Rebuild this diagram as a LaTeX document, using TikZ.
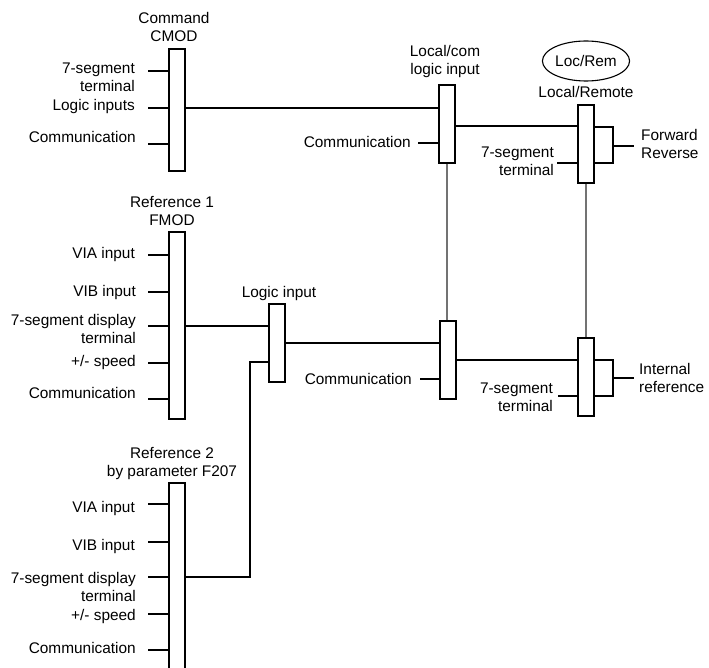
\documentclass[tikz,border=0pt]{standalone}
\usepackage{fontspec}
\setmainfont{Liberation Sans}
\usetikzlibrary{shapes.geometric}
\begin{document}
\begin{tikzpicture}[x=1pt,y=-1pt,
  every node/.style={font=\fontsize{15.4}{18}\selectfont},
  bar/.style={draw, line width=1.4pt, minimum width=16pt, inner sep=0pt, fill=white},
  wire/.style={line width=1.4pt},
  gwire/.style={line width=1.2pt, black!55},
  lbl/.style={inner sep=0pt, align=right},
  lblL/.style={inner sep=0pt, align=left},
  ttl/.style={inner sep=0pt, align=center}]
\useasboundingbox (0,0) rectangle (709,668);

% bars
\node[bar, minimum height=122pt] (cmod) at (177,110) {};
\node[bar, minimum height=78pt] (lc) at (447,124) {};
\node[bar, minimum height=78pt] (lr) at (586,144) {};
\node[bar, minimum height=187pt] (fmod) at (177,325.5) {};
\node[bar, minimum height=78pt] (li) at (277,343) {};
\node[bar, minimum height=78pt] (lm) at (448,360) {};
\node[bar, minimum height=78pt] (rr) at (586,377) {};
\node[bar, minimum height=189pt] (ref2) at (177,577.5) {};

% titles
\node[ttl] (tcmod) at (174,26.5) {Command\\CMOD};
\node[ttl] (tlc) at (445,62) {Local/com\\logic input};
\node[draw, ellipse, line width=1.1pt, minimum width=75pt, minimum height=40pt, inner sep=0pt] (locrem) at (586,61) {Loc/Rem};
\node[ttl] (tlr) at (586,92) {Local/Remote};
\node[ttl] (tfmod) at (172,211) {Reference 1\\FMOD};
\node[ttl] (tli) at (279,294) {Logic input};
\node[ttl] (tref2) at (172,463.5) {Reference 2\\by parameter F207};

% CMOD labels and ticks
\node[lbl, anchor=east] (c1) at (135,77) {7-segment\\terminal};
\node[lbl, anchor=east] (c2) at (135,107) {Logic inputs};
\node[lbl, anchor=east] (c3) at (136,137) {Communication};
\draw[wire] (cmod.west |- 0,71) -- ++(-20,0);
\draw[wire] (cmod.west |- 0,108) -- ++(-20,0);
\draw[wire] (cmod.west |- 0,144) -- ++(-20,0);

% Local/com
\node[lbl, anchor=east] (lc1) at (411,142) {Communication};
\draw[wire] (lc.west |- 0,143) -- ++(-20,0);

% Local/Remote
\node[lbl, anchor=east] (lr1) at (554,161) {7-segment\\terminal};
\draw[wire] (lr.west |- 0,163) -- ++(-20,0);
\coordinate (lrb) at (613,0);
\draw[wire] (lr.east |- 0,127) -| (lrb |- 0,163) -- (lr.east |- 0,163);
\draw[wire] (lrb |- 0,146) -- ++(21,0);
\node[lblL, anchor=west] (fr) at (641,144) {Forward\\Reverse};

% FMOD
\node[lbl, anchor=east] (f1) at (135,255) {VIA input};
\node[lbl, anchor=east] (f2) at (136,293) {VIB input};
\node[lbl, anchor=east] (f3) at (136,328.5) {7-segment display\\terminal};
\node[lbl, anchor=east] (f4) at (136,363) {+/- speed};
\node[lbl, anchor=east] (f5) at (136,393) {Communication};
\foreach \yy in {255,292,326,363,399} \draw[wire] (fmod.west |- 0,\yy) -- ++(-20,0);

% lower middle
\node[lbl, anchor=east] (lm1) at (412,379) {Communication};
\draw[wire] (lm.west |- 0,379) -- ++(-19,0);

% lower right
\node[lbl, anchor=east] (rr1) at (553,397) {7-segment\\terminal};
\draw[wire] (rr.west |- 0,396) -- ++(-19,0);
\coordinate (rrb) at (613,0);
\draw[wire] (rr.east |- 0,360) -| (rrb |- 0,396) -- (rr.east |- 0,396);
\draw[wire] (rrb |- 0,378) -- ++(21,0);
\node[lblL, anchor=west] (ir) at (639,378) {Internal\\reference};

% Reference 2
\node[lbl, anchor=east] (r1) at (135,509) {VIA input};
\node[lbl, anchor=east] (r2) at (135,547) {VIB input};
\node[lbl, anchor=east] (r3) at (136,587) {7-segment display\\terminal};
\node[lbl, anchor=east] (r4) at (136,617) {+/- speed};
\node[lbl, anchor=east] (r5) at (136,648) {Communication};
\foreach \yy in {504,542,577,614,650} \draw[wire] (ref2.west |- 0,\yy) -- ++(-20,0);

% connections
\draw[wire] (cmod.east |- 0,108) -- (lc.west |- 0,108);
\draw[wire] (lc.east |- 0,126) -- (lr.west |- 0,126);
\draw[wire] (fmod.east |- 0,326) -- (li.west |- 0,326);
\draw[wire] (li.east |- 0,343) -- (lm.west |- 0,343);
\draw[wire] (lm.east |- 0,360) -- (rr.west |- 0,360);
\coordinate (bend) at (250,0);
\draw[wire] (ref2.east |- 0,577) -| (bend |- 0,362) -- (li.west |- 0,362);
\draw[gwire] (lc.south) -- (lc.south |- lm.north);
\draw[gwire] (lr.south) -- (rr.north);
\end{tikzpicture}
\end{document}
